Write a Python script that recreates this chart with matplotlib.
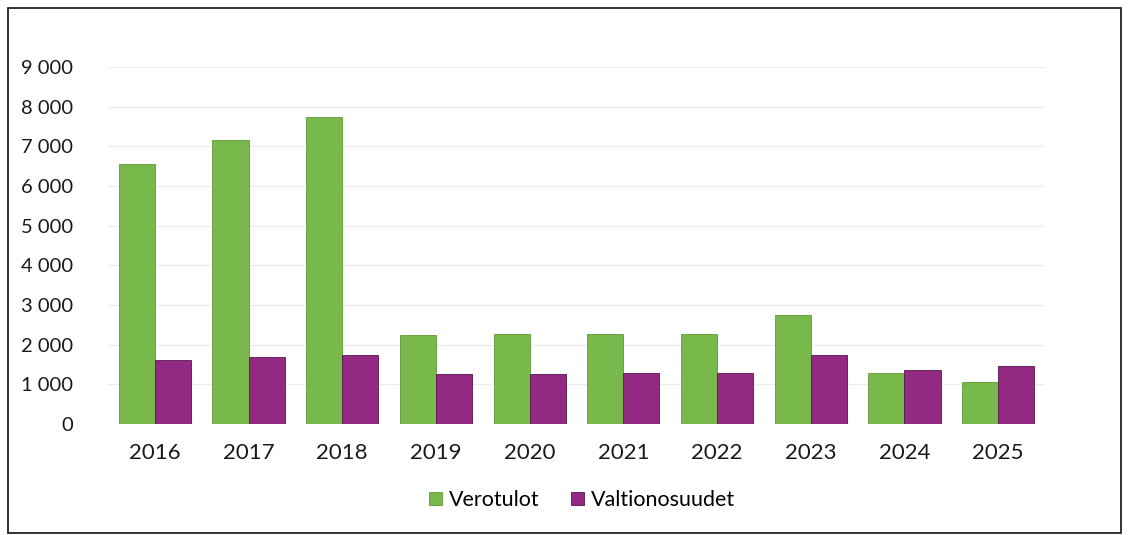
import matplotlib.pyplot as plt
import numpy as np
from matplotlib.patches import Rectangle

plt.rcParams['font.family'] = ['Lato', 'DejaVu Sans']

# data
years = ['2016', '2017', '2018', '2019', '2020', '2021', '2022', '2023', '2024', '2025']
verotulot = [6560, 7150, 7740, 2240, 2260, 2260, 2275, 2740, 1290, 1050]
valtionosuudet = [1620, 1690, 1745, 1260, 1270, 1285, 1290, 1740, 1360, 1460]

green = '#79b84a'
purple = '#922a84'

fig = plt.figure(figsize=(11.3, 5.35), dpi=100)
ax = fig.add_axes([108 / 1130, (535 - 424) / 535, (1045 - 108) / 1130, (424 - 67) / 535])

x = np.arange(len(years))
w = 0.385
ax.bar(x - w / 2, verotulot, w, color=green, label='Verotulot', edgecolor='#5e9a35', linewidth=0.6)
ax.bar(x + w / 2, valtionosuudet, w, color=purple, label='Valtionosuudet', edgecolor='#5a1450', linewidth=0.6)

ax.set_xlim(-0.5, len(years) - 0.5)
ax.set_ylim(0, 9000)
ax.set_yticks(range(0, 9001, 1000))
ax.set_yticklabels([f'{v:,}'.replace(',', ' ') for v in range(0, 9001, 1000)])
ax.set_xticks(x)
ax.set_xticklabels(years)
ax.tick_params(axis='both', length=0, colors='#1a1a1a')
ax.tick_params(axis='y', pad=25, labelsize=14.5)
ax.tick_params(axis='x', pad=14, labelsize=16)
ax.grid(axis='y', color='#ececec', linewidth=0.9)
ax.set_axisbelow(True)
for s in ax.spines.values():
    s.set_visible(False)

fig.legend(loc='center', bbox_to_anchor=(582 / 1130, (535 - 500) / 535), ncol=2, frameon=False,
           fontsize=15.5, handlelength=0.6, handleheight=0.6, handletextpad=0.3, columnspacing=1.5)

# scanned frame around the chart
fig.patches.append(Rectangle((8 / 1130, 2 / 535), 1113 / 1130, 525 / 535, transform=fig.transFigure,
                             fill=False, edgecolor='#222222', linewidth=1.3))

fig.savefig('out.png', dpi=100)
